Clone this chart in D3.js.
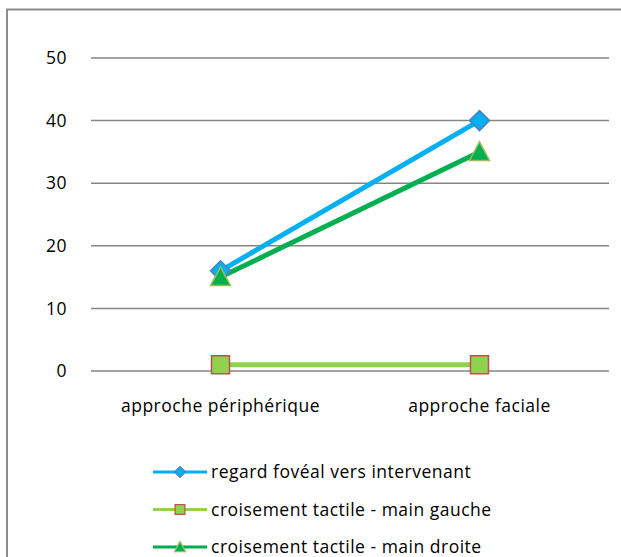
<!DOCTYPE html>
<html><head><meta charset="utf-8">
<script src="https://cdn.jsdelivr.net/npm/d3@7"></script>
<style>body{margin:0;background:#fff}svg{display:block}text{font-family:"Open Sans",sans-serif;fill:#000;letter-spacing:0.5px}</style>
</head><body>
<script>
const categories = ["approche périphérique", "approche faciale"];
const seriesNames = ["regard fovéal vers intervenant", "croisement tactile - main gauche", "croisement tactile - main droite"];
const regardValues = [16, 40];
const gaucheValues = [1, 1];
const droiteValues = [15, 35];
const yTicks = [0, 10, 20, 30, 40, 50];

const W = 621, H = 557;
const FS = "17.5px";
const svg = d3.select("body").append("svg").attr("width", W).attr("height", H);
svg.append("rect").attr("x", 7).attr("y", 9.5).attr("width", W + 20).attr("height", H + 20)
  .attr("fill", "none").attr("stroke", "#8c8c8c").attr("stroke-width", 2);

const x = d3.scaleBand().domain(categories).range([91, 609]);
const y = d3.scaleLinear().domain([0, 50]).range([371, 58]);

const g = svg.append("g");
g.selectAll("line.grid").data(yTicks).join("line")
  .attr("x1", 91).attr("x2", 609).attr("y1", d => y(d)).attr("y2", d => y(d))
  .attr("stroke", "#868686").attr("stroke-width", 1.5);
g.selectAll("text.ytick").data(yTicks).join("text")
  .attr("x", 67).attr("y", d => y(d)).attr("dy", "0.35em").attr("text-anchor", "end")
  .style("font-size", FS).text(d => d);
g.selectAll("text.xtick").data(categories).join("text")
  .attr("x", d => x(d) + x.bandwidth() / 2).attr("y", 412).attr("text-anchor", "middle")
  .style("font-size", FS).text(d => d);

const cx = c => x(c) + x.bandwidth() / 2;
const diamond = s => { const r = s / 2; return `M0,${-r}L${r},0L0,${r}L${-r},0Z`; };
const square = s => { const r = s / 2; return `M${-r},${-r}H${r}V${r}H${-r}Z`; };
const triangle = s => { const r = s / 2; return `M0,${-r}L${r},${r * 0.85}L${-r},${r * 0.85}Z`; };
const series = [
  {name: seriesNames[0], vals: regardValues, color: "#00b0f0", shape: diamond, fill: "#00b0f0", stroke: "#4f81bd", size: 20},
  {name: seriesNames[1], vals: gaucheValues, color: "#92d050", shape: square, fill: "#92d050", stroke: "#c0504d", size: 18},
  {name: seriesNames[2], vals: droiteValues, color: "#00b050", shape: triangle, fill: "#00b050", stroke: "#9bbb59", size: 20}
];
const line = d3.line().x(d => cx(d.c)).y(d => y(d.v));
[1, 2, 0].forEach(i => {
  const s = series[i];
  const pts = categories.map((c, k) => ({c, v: s.vals[k]}));
  g.append("path").datum(pts).attr("d", line).attr("fill", "none")
    .attr("stroke", s.color).attr("stroke-width", 5);
});
[1, 0, 2].forEach(i => {
  const s = series[i];
  const pts = categories.map((c, k) => ({c, v: s.vals[k]}));
  g.selectAll(null).data(pts).join("path")
    .attr("d", s.shape(s.size))
    .attr("transform", d => `translate(${cx(d.c)},${y(d.v)})`)
    .attr("fill", s.fill).attr("stroke", s.stroke).attr("stroke-width", 1.5);
});

const leg = svg.append("g");
series.forEach((s, i) => {
  const yy = 472 + i * 37.5;
  leg.append("line").attr("x1", 153).attr("x2", 207).attr("y1", yy).attr("y2", yy)
    .attr("stroke", s.color).attr("stroke-width", 3);
  leg.append("path").attr("d", s.shape(s.size * 0.55))
    .attr("transform", `translate(180,${yy})`)
    .attr("fill", s.fill).attr("stroke", s.stroke).attr("stroke-width", 1.2);
  leg.append("text").attr("x", 211).attr("y", yy).attr("dy", "0.35em")
    .style("font-size", FS).text(s.name);
});
</script>
</body></html>
